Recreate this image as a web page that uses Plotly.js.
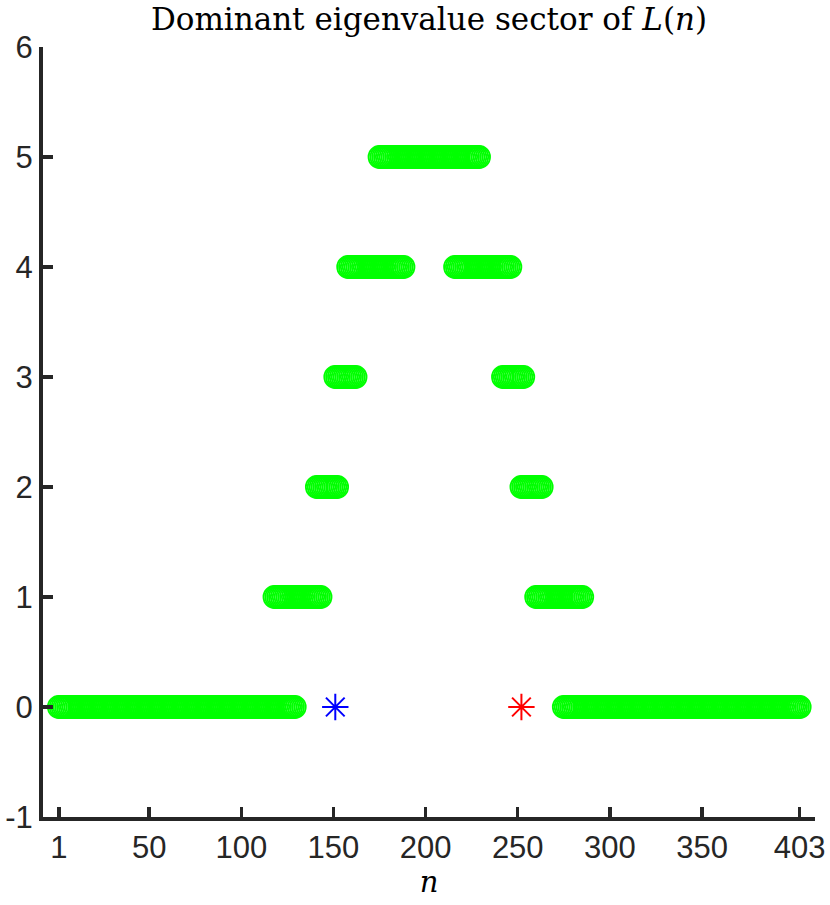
<!DOCTYPE html>
<html>
<head>
<meta charset="utf-8">
<script src="https://cdn.plot.ly/plotly-3.0.1.min.js"></script>
<style>
  html, body { margin: 0; padding: 0; background: #fff; }
  #chart { width: 830px; height: 905px; }
</style>
</head>
<body>
<div id="chart"></div>
<script>
// Runs of consecutive n that share the same dominant sector
const runStart  = [1,   118, 141, 151, 158, 175, 216, 242, 252, 260, 275];
const runEnd    = [129, 143, 152, 162, 188, 229, 246, 253, 263, 285, 403];
const runSector = [0,   1,   2,   3,   4,   5,   4,   3,   2,   1,   0];

// The two marked points
const blueN = [151];
const blueSector = [0];
const redN = [252];
const redSector = [0];

const xTickVals = [1, 50, 100, 150, 200, 250, 300, 350, 403];
const xTickText = ['1', '50', '100', '150', '200', '250', '300', '350', '403'];
const yTickVals = [-1, 0, 1, 2, 3, 4, 5, 6];
const yTickText = ['-1', '0', '1', '2', '3', '4', '5', '6'];

// one marker per integer n inside each run
const sectorX = [];
const sectorY = [];
runStart.forEach((s, i) => {
  for (let n = s; n <= runEnd[i]; n++) {
    sectorX.push(n);
    sectorY.push(runSector[i]);
  }
});

const axisColor = '#262626';

const traces = [
  {
    x: sectorX,
    y: sectorY,
    type: 'scatter',
    mode: 'markers',
    marker: {
      symbol: 'circle-open',
      size: 22,
      color: '#00ff00',
      line: { color: '#00ff00', width: 1.8 }
    },
    hoverinfo: 'x+y'
  },
  {
    x: blueN,
    y: blueSector,
    type: 'scatter',
    mode: 'markers',
    marker: {
      symbol: 'asterisk-open',
      size: 22,
      color: '#0000ff',
      line: { color: '#0000ff', width: 2 }
    }
  },
  {
    x: redN,
    y: redSector,
    type: 'scatter',
    mode: 'markers',
    marker: {
      symbol: 'asterisk-open',
      size: 22,
      color: '#ff0000',
      line: { color: '#ff0000', width: 2 }
    }
  }
];

const layout = {
  width: 830,
  height: 905,
  showlegend: false,
  paper_bgcolor: 'white',
  plot_bgcolor: 'white',
  margin: { l: 43, r: 15, t: 47, b: 88 },
  title: {
    text: 'Dominant eigenvalue sector of <i>L</i>(<i>n</i>)',
    font: { family: 'DejaVu Serif, serif', size: 31, color: '#000' },
    xref: 'paper',
    x: 0.5,
    yref: 'container',
    y: 1 - 19 / 905,
    yanchor: 'middle'
  },
  xaxis: {
    range: [-7.6, 411.3],
    tickvals: xTickVals,
    ticktext: xTickText,
    ticks: 'inside',
    ticklen: 10,
    tickwidth: 3.5,
    tickcolor: axisColor,
    showline: true,
    linewidth: 4,
    linecolor: axisColor,
    showgrid: false,
    zeroline: false,
    tickfont: { family: 'Liberation Sans, Arial, sans-serif', size: 31, color: axisColor },
    title: {
      text: '<i>n</i>',
      font: { family: 'DejaVu Serif, serif', size: 29, color: '#000' },
      standoff: 6
    }
  },
  yaxis: {
    range: [-1, 6],
    tickvals: yTickVals,
    ticktext: yTickText,
    ticks: 'inside',
    ticklen: 10,
    tickwidth: 3.5,
    tickcolor: axisColor,
    showline: true,
    linewidth: 4,
    linecolor: axisColor,
    showgrid: false,
    zeroline: false,
    tickfont: { family: 'Liberation Sans, Arial, sans-serif', size: 31, color: axisColor }
  }
};

Plotly.newPlot('chart', traces, layout, { displayModeBar: false, staticPlot: true });
</script>
</body>
</html>
